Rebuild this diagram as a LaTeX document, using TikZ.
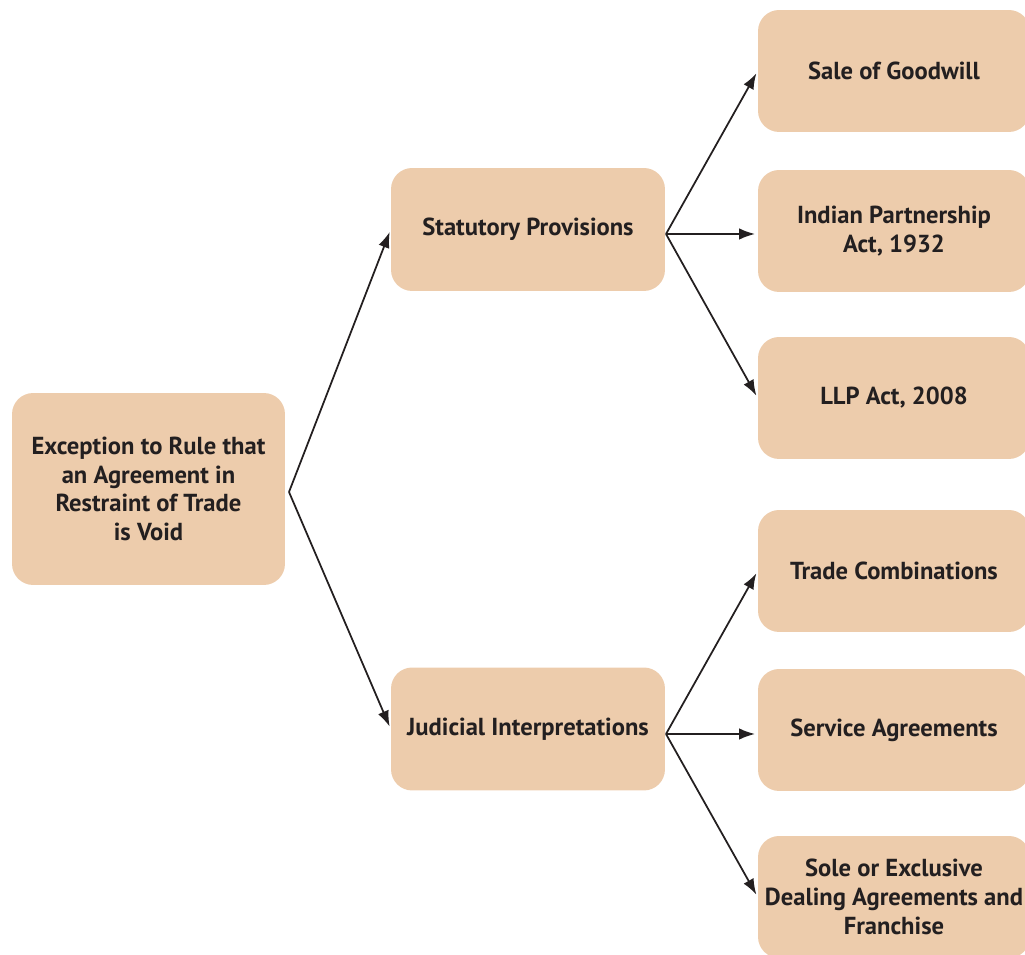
\documentclass[tikz,border=0pt]{standalone}
\usepackage{fontspec}
\setmainfont{PT Sans}
\usetikzlibrary{arrows.meta}
\definecolor{boxfill}{RGB}{237,204,172}
\definecolor{ink}{RGB}{35,31,32}
\tikzset{
  box/.style={fill=boxfill, rounded corners=12pt, align=center, text=ink,
    font=\bfseries\fontsize{14}{16.4}\selectfont, inner sep=2pt},
  arr/.style={draw=ink, line width=1pt, -{Latex[length=9pt,width=6.5pt]}, shorten >=1.5pt}
}
\begin{document}
\begin{tikzpicture}[x=0.02cm,y=-0.02cm]
  \useasboundingbox (0,0) rectangle (1025,955);
  % boxes
  \node[box, minimum width=5.46cm, minimum height=3.84cm] (root) at (148.5,489)
    {Exception to Rule that\\an Agreement in\\Restraint of Trade\\is Void};
  \node[box, minimum width=5.48cm, minimum height=2.46cm] (stat) at (528,229.5) {Statutory Provisions};
  \node[box, minimum width=5.48cm, minimum height=2.46cm] (jud) at (528,729) {Judicial Interpretations};
  \node[box, minimum width=5.44cm, minimum height=2.44cm] (good) at (894,71) {Sale of Goodwill};
  \node[box, minimum width=5.44cm, minimum height=2.44cm] (ipa) at (894,231) {Indian Partnership\\Act, 1932};
  \node[box, minimum width=5.44cm, minimum height=2.44cm] (llp) at (894,398) {LLP Act, 2008};
  \node[box, minimum width=5.44cm, minimum height=2.44cm] (trade) at (894,571) {Trade Combinations};
  \node[box, minimum width=5.44cm, minimum height=2.44cm] (serv) at (894,730) {Service Agreements};
  \node[box, minimum width=5.44cm, minimum height=2.44cm] (sole) at (894,897)
    {Sole or Exclusive\\Dealing Agreements and\\Franchise};
  % branch points
  \coordinate (rb) at (289,492);
  \coordinate (sb) at (666,234);
  \coordinate (jb) at (666,734);
  % connectors
  \foreach \t in {stat,jud}
    \draw[arr] (rb) -- (\t.west);
  \foreach \t in {good,llp}
    \draw[arr] (sb) -- (\t.west);
  \draw[arr] (sb) -- (sb -| ipa.west);
  \foreach \t in {trade,sole}
    \draw[arr] (jb) -- (\t.west);
  \draw[arr] (jb) -- (jb -| serv.west);
\end{tikzpicture}
\end{document}
